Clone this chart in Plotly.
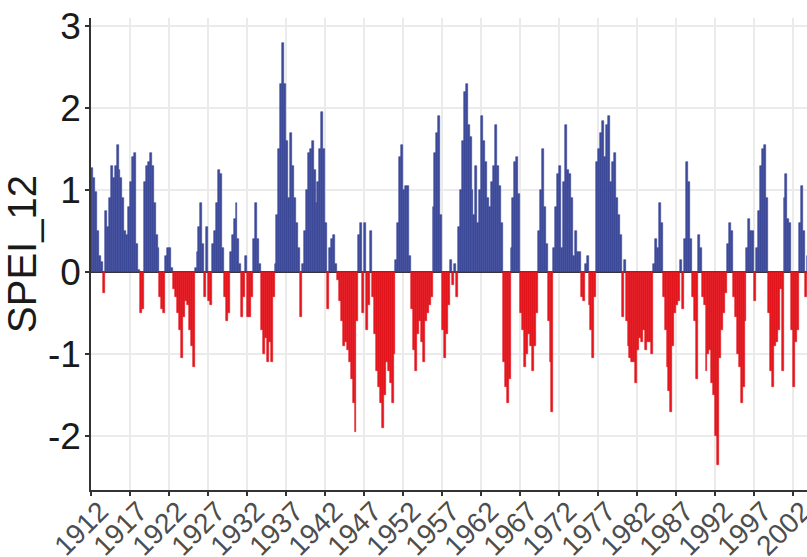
import numpy as np
import plotly.graph_objects as go

# SPEI_12 values, one value per quarter (4 per year), starting Jan 1912
start_year = 1912
steps_per_year = 4

spei_1912_1921 = [
    1.27, 1.15, 0.98, 0.5,
    0.2, 0.12, -0.25, 0.75,
    0.55, 0.9, 1.3, 1.15,
    1.3, 1.55, 1.25, 1.15,
    0.9, 0.5, 0.45, 0.8,
    1.1, 1.4, 1.45, 0.35,
    0.03, -0.5, -0.45, 1.1,
    1.3, 1.35, 1.45, 1.3,
    0.85, 0.45, 0.3, -0.3,
    -0.45, -0.5, 0.2, 0.3,
]
spei_1922_1931 = [
    0.3, 0.05, -0.2, -0.3,
    -0.5, -0.7, -1.05, -0.55,
    -0.35, -0.4, -0.7, -0.9,
    -1.15, 0.05, 0.25, 0.55,
    0.85, 0.35, -0.3, 0.55,
    -0.35, -0.4, 0.35, 0.5,
    0.85, 1.25, 1.2, 0.3,
    -0.3, -0.6, -0.5, 0.25,
    0.45, 0.65, 0.85, 0.4,
    0.1, -0.55, -0.3, 0.2,
]
spei_1932_1941 = [
    -0.55, -0.55, -0.3, 0.4,
    0.85, 0.4, 0.1, -0.7,
    -1.0, -0.8, -1.1, -0.85,
    -1.1, -0.3, 0.1, 0.7,
    1.5, 2.3, 2.8, 2.3,
    1.6, 0.9, 1.7, 1.3,
    0.9, 0.6, 0.3, -0.55,
    0.1, 0.5, 1.0, 1.45,
    1.5, 1.6, 1.25, 0.85,
    1.1, 1.5, 1.95, 1.5,
]
spei_1942_1951 = [
    0.6, -0.45, 0.3, 0.4,
    0.45, 0.1, -0.1, -0.35,
    -0.6, -0.9, -0.85, -0.95,
    -1.1, -1.3, -1.6, -1.95,
    -0.6, 0.45, 0.6, -0.5,
    0.6, -0.7, -0.4, 0.5,
    -0.3, -0.75, -1.2, -1.4,
    -1.6, -1.9, -1.5, -1.1,
    -1.2, -1.35, -1.6, -1.0,
    0.15, 0.6, 1.4, 1.55,
]
spei_1952_1961 = [
    1.0, 1.05, 1.05, 0.2,
    -0.45, -0.95, -1.2, -0.75,
    -0.6, -0.85, -1.1, -0.6,
    -0.5, -0.4, -0.3, 0.8,
    1.45, 1.7, 1.9, 0.7,
    -0.7, -1.05, -0.75, -0.4,
    0.15, -0.15, 0.1, -0.3,
    0.55, 1.0, 1.6, 2.2,
    2.3, 1.8, 1.65, 1.0,
    0.7, 1.3, 0.6, 1.0,
]
spei_1962_1971 = [
    1.9, 1.6, 1.35, 0.9,
    0.8, 1.1, 1.3, 1.8,
    1.3, 1.05, 0.6, -1.1,
    -1.4, -1.6, -1.3, 0.3,
    0.9, 1.35, 1.4, 0.95,
    -0.5, -0.7, -1.15, -1.0,
    -0.75, -0.9, -1.2, -0.9,
    -0.5, 0.5, 1.0, 1.5,
    0.8, 0.35, -0.6, -1.1,
    -1.7, 0.3, 0.8, 1.2,
]
spei_1972_1981 = [
    1.3, 0.3, 1.1, 1.8,
    1.25, 1.2, 0.9, 0.2,
    0.5, 0.25, 0.25, -0.3,
    -0.35, 0.1, 0.2, -0.4,
    -0.7, -1.05, -0.3, 1.35,
    1.5, 1.7, 1.85, 1.4,
    1.8, 1.9, 1.1, 1.35,
    1.45, 0.9, 0.7, 0.45,
    -0.55, 0.15, -0.6, -0.9,
    -1.05, -1.1, -1.1, -1.35,
]
spei_1982_1991 = [
    -0.95, -0.8, -0.85, -0.7,
    -0.95, -0.85, -0.85, -1.0,
    0.1, 0.4, 0.3, 0.85,
    0.6, -0.3, -0.7, -1.15,
    -1.45, -1.7, -0.9, -0.5,
    -0.4, -0.35, 0.15, -0.45,
    0.4, 1.35, 1.1, 0.4,
    -0.3, -0.6, -1.3, 0.45,
    0.3, -0.3, -0.4, -1.2,
    -1.0, -0.95, -1.35, -1.5,
]
spei_1992_2003 = [
    -2.0, -2.35, -1.05, -0.7,
    -0.5, -0.25, 0.35, 0.6,
    0.5, -0.3, -0.55, -1.0,
    -1.15, -1.6, -1.4, -0.6,
    0.3, 0.65, 0.5, 0.5,
    -0.35, 0.3, 0.75, 1.3,
    1.5, 1.55, 0.9, -0.5,
    -1.2, -1.4, -0.9, -0.85,
    -0.7, -0.2, -1.2, 0.9,
    1.2, 0.65, 0.6, -0.7,
    -1.4, -0.85, -0.7, 0.6,
    1.05, 0.5, -0.3, 0.2,
]

tick_years = list(range(1912, 2003, 5))
y_ticks = [-2, -1, 0, 1, 2, 3]

values = np.array(spei_1912_1921 + spei_1922_1931 + spei_1932_1941 + spei_1942_1951
                  + spei_1952_1961 + spei_1962_1971 + spei_1972_1981 + spei_1982_1991
                  + spei_1992_2003)
t = start_year + np.arange(len(values)) / steps_per_year
step = 1.0 / steps_per_year

BLUE = "#3D4A9A"
RED = "#E3151D"

pos = values >= 0
fig = go.Figure()
fig.add_trace(go.Bar(x=t[pos], y=values[pos], width=step, offset=0,
                     marker=dict(color=BLUE, line=dict(width=0.6, color=BLUE)),
                     hoverinfo="x+y"))
fig.add_trace(go.Bar(x=t[~pos], y=values[~pos], width=step, offset=0,
                     marker=dict(color=RED, line=dict(width=0.6, color=RED)),
                     hoverinfo="x+y"))

fig.update_layout(
    width=807, height=557,
    margin=dict(l=91, r=0, t=18, b=67),
    plot_bgcolor="white", paper_bgcolor="white",
    showlegend=False, bargap=0, barmode="overlay",
    font=dict(family="Liberation Sans, Arial, sans-serif", color="#1a1a1a"),
)
fig.update_xaxes(
    range=[1911.97, 2003.76],
    tickvals=tick_years, ticktext=[str(y) for y in tick_years],
    tickangle=-45, tickfont=dict(size=28, color="#4d4d4d"),
    ticklabelstandoff=-12, ticklabelshift=9, ticklabeloverflow="allow",
    showgrid=True, gridcolor="#EBEBEB", gridwidth=1.5,
    showline=True, linecolor="#333333", linewidth=1.5,
    ticks="outside", ticklen=4, tickcolor="#333333", tickwidth=1.5,
    zeroline=False, automargin=False,
)
fig.update_yaxes(
    range=[-2.655, 3.10],
    tickvals=y_ticks, ticktext=[str(v) for v in y_ticks],
    tickfont=dict(size=37, color="#1a1a1a"),
    ticklabelstandoff=-3,
    title=dict(text="SPEI_12", font=dict(size=40, color="#1a1a1a"), standoff=9),
    showgrid=True, gridcolor="#EBEBEB", gridwidth=1.5,
    showline=True, linecolor="#333333", linewidth=1.5,
    ticks="outside", ticklen=4, tickcolor="#333333", tickwidth=1.5,
    zeroline=True, zerolinecolor="#333333", zerolinewidth=1.5,
    automargin=False,
)

fig.write_html("out.html")
